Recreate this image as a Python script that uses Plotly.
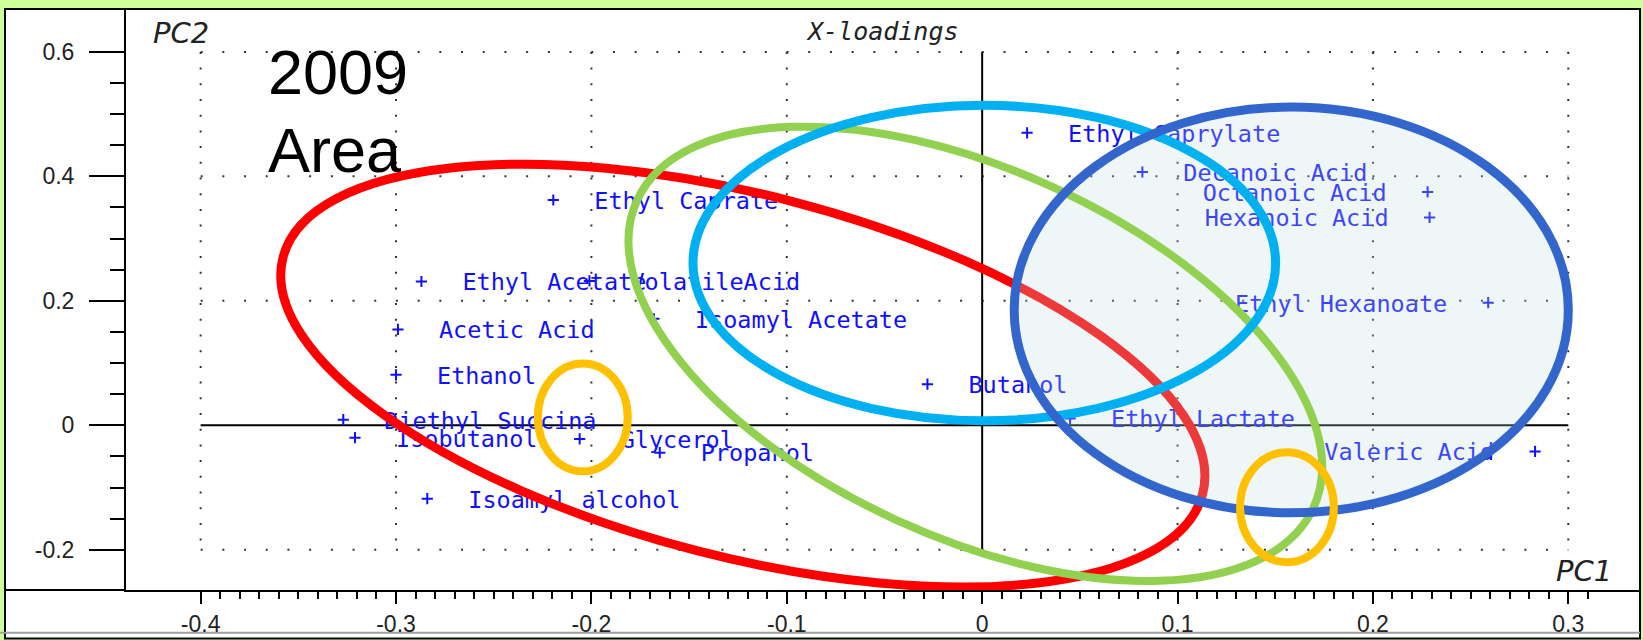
import numpy as np
import plotly.graph_objects as go

# ---------------- data ----------------
NAMES = [
    "Ethyl Caprylate", "Decanoic Acid", "Octanoic Acid", "Hexanoic Acid",
    "Ethyl Caprate", "Ethyl Acetate", "VolatileAcid", "Isoamyl Acetate",
    "Ethyl Hexanoate", "Acetic Acid", "Ethanol", "Butanol",
    "Diethyl Succina", "Isobutanol", "Glycerol", "Propanol",
    "Ethyl Lactate", "Valeric Acid", "Isoamyl alcohol",
]
PC1 = [0.023, 0.082, 0.228, 0.229,
       -0.2195, -0.287, -0.201, -0.168,
       0.259, -0.299, -0.300, -0.028,
       -0.327, -0.321, -0.206, -0.165,
       0.045, 0.283, -0.284]
PC2 = [0.470, 0.407, 0.375, 0.334,
       0.362, 0.231, 0.232, 0.171,
       0.197, 0.154, 0.081, 0.066,
       0.009, -0.020, -0.022, -0.044,
       0.011, -0.042, -0.118]
LABEL_SIDE = ["right", "right", "left", "left",
              "right", "right", "right", "right",
              "left", "right", "right", "right",
              "right", "right", "right", "right",
              "right", "left", "right"]

X_TICKS = [-0.4, -0.3, -0.2, -0.1, 0.0, 0.1, 0.2, 0.3]
X_TICK_LABELS = ["-0.4", "-0.3", "-0.2", "-0.1", "0", "0.1", "0.2", "0.3"]
Y_TICKS = [-0.2, 0.0, 0.2, 0.4, 0.6]
Y_TICK_LABELS = ["-0.2", "0", "0.2", "0.4", "0.6"]

# ellipse annotations (center, conjugate semi-axis vectors, in data units)
# order: red, (blue fill drawn right after red), green, cyan, blue, orange x2
ELLIPSE_COLORS = ["#ff0000", "#92d050", "#00b0f0", "#3366cc", "#ffc000", "#ffc000"]
ELLIPSE_WIDTHS = [9, 8, 9, 9, 8, 8]
ELLIPSE_CENTERS = [(-0.1225, 0.0798), (-0.0035, 0.1148), (0.0011, 0.2607),
                   (0.1582, 0.1853), (-0.2044, 0.0127), (0.1560, -0.1317)]
ELLIPSE_A = [(0.2353, -0.1905), (0.17298, -0.24786), (0.1491, 0.0),
             (0.1418, 0.0), (0.0230, 0.0), (0.0240, 0.0)]
ELLIPSE_B = [(-0.02359, -0.2813), (-0.03975, -0.2679), (0.0, -0.2534),
             (0.0, 0.3260), (0.0, 0.0867), (0.0, 0.0883)]
FILLED_ELLIPSE = 3

# ---------------- layout geometry ----------------
W, H = 1643, 640
ML, MR, MT, MB = 126, 3, 9, 44
PLOT_W = W - ML - MR
PLOT_H = H - MT - MB
X_RANGE = [-0.4382, 0.3367]
Y_RANGE = [-0.2647, 0.6689]
TEXT_DROP = 3 / 628.75   # labels sit ~3 px below their marker


def pxx(X):
    return (X - ML) / PLOT_W


def pxy(Y):
    return (H - MB - Y) / PLOT_H


def ellipse_path(c, a, b):
    k = 0.5522847
    cx, cy = c
    ax, ay = a
    bx, by = b

    def p(u, v):
        return "%.5f,%.5f" % (cx + u * ax + v * bx, cy + u * ay + v * by)
    return ("M " + p(1, 0) +
            " C " + p(1, k) + " " + p(k, 1) + " " + p(0, 1) +
            " C " + p(-k, 1) + " " + p(-1, k) + " " + p(-1, 0) +
            " C " + p(-1, -k) + " " + p(-k, -1) + " " + p(0, -1) +
            " C " + p(k, -1) + " " + p(1, -k) + " " + p(1, 0) + " Z")


LABEL_FONT = dict(family="DejaVu Sans Mono", size=23.5, color="#1010ff")
TICK_FONT = dict(family="Liberation Sans", size=23, color="#222222")
XTITLE_FONT = dict(family="DejaVu Sans Mono", size=25, color="#222222", style="italic")
PCTITLE_FONT = dict(family="DejaVu Sans", size=29, color="#222222", style="italic")

fig = go.Figure()

fig.add_trace(go.Scatter(
    x=PC1, y=PC2, mode="markers", hoverinfo="skip", showlegend=False,
    marker=dict(symbol="cross-thin", size=8, color="#1010ff",
                line=dict(width=2, color="#1010ff")),
))
for side in ["right", "left"]:
    idx = [i for i, s in enumerate(LABEL_SIDE) if s == side]
    fig.add_trace(go.Scatter(
        x=[PC1[i] for i in idx], y=[PC2[i] for i in idx],
        text=[NAMES[i] for i in idx], mode="markers+text",
        textposition="middle " + side, textfont=LABEL_FONT,
        marker=dict(size=64, color="rgba(0,0,0,0)"),
        yaxis="y2", hoverinfo="skip", showlegend=False,
    ))

shapes = []
# white panel with black frame
shapes.append(dict(type="rect", xref="paper", yref="paper",
                   x0=pxx(5), x1=1.0, y0=pxy(645), y1=1.0,
                   fillcolor="white", line=dict(color="black", width=2),
                   layer="below"))
shapes.append(dict(type="line", xref="paper", yref="paper",
                   x0=pxx(5), x1=0, y0=0, y1=0,
                   line=dict(color="black", width=2), layer="below"))
shapes.append(dict(type="line", xref="paper", yref="paper",
                   x0=pxx(0), x1=1.0, y0=pxy(639.2), y1=pxy(639.2),
                   line=dict(color="#a0a0a0", width=2), layer="below"))
# dotted grid limited to the tick box
for xv in X_TICKS:
    if xv == 0:
        continue
    shapes.append(dict(type="line", xref="x", yref="y",
                       x0=xv, x1=xv, y0=Y_TICKS[-1], y1=Y_TICKS[0],
                       line=dict(color="#333333", width=2, dash="2px,13.7px"),
                       layer="below"))
for yv in Y_TICKS:
    if yv == 0:
        continue
    shapes.append(dict(type="line", xref="x", yref="y",
                       x0=X_TICKS[0], x1=X_TICKS[-1], y0=yv, y1=yv,
                       line=dict(color="#333333", width=2, dash="2px,19.7px"),
                       layer="below"))
# zero lines
shapes.append(dict(type="line", xref="x", yref="y",
                   x0=X_TICKS[0], x1=X_TICKS[-1], y0=0, y1=0,
                   line=dict(color="black", width=2), layer="below"))
shapes.append(dict(type="line", xref="x", yref="y",
                   x0=0, x1=0, y0=Y_TICKS[0], y1=Y_TICKS[-1],
                   line=dict(color="black", width=2), layer="below"))
# ellipse outlines on top (red first, then translucent fill, then the rest)
for i, (c, a, b, col, w) in enumerate(zip(ELLIPSE_CENTERS, ELLIPSE_A, ELLIPSE_B,
                                          ELLIPSE_COLORS, ELLIPSE_WIDTHS)):
    shapes.append(dict(type="path", xref="x", yref="y",
                       path=ellipse_path(c, a, b),
                       fillcolor="rgba(0,0,0,0)",
                       line=dict(color=col, width=w), layer="above"))
    if i == 0:
        shapes.append(dict(type="path", xref="x", yref="y",
                           path=ellipse_path(ELLIPSE_CENTERS[FILLED_ELLIPSE],
                                             ELLIPSE_A[FILLED_ELLIPSE],
                                             ELLIPSE_B[FILLED_ELLIPSE]),
                           fillcolor="rgba(190,221,228,0.26)",
                           line=dict(width=0), layer="above"))

annotations = [
    dict(text="PC2", xref="paper", yref="paper", x=pxx(151), y=pxy(33),
         xanchor="left", yanchor="middle", showarrow=False, font=PCTITLE_FONT),
    dict(text="X-loadings", xref="paper", yref="paper", x=pxx(882), y=pxy(32),
         xanchor="center", yanchor="middle", showarrow=False, font=XTITLE_FONT),
    dict(text="PC1", xref="paper", yref="paper", x=pxx(1614), y=pxy(577),
         xanchor="right", yanchor="middle", showarrow=False, font=PCTITLE_FONT),
    dict(text="2009", xref="paper", yref="paper", x=pxx(266), y=pxy(72.5),
         xanchor="left", yanchor="middle", showarrow=False,
         font=dict(family="Liberation Sans", size=63, color="black")),
    dict(text="Area", xref="paper", yref="paper", x=pxx(266), y=pxy(151),
         xanchor="left", yanchor="middle", showarrow=False,
         font=dict(family="Liberation Sans", size=63, color="black")),
]

X_MINOR = [round(v, 2) for v in np.arange(-0.40, 0.3151, 0.01)]
Y_MINOR = [round(v, 2) for v in np.arange(-0.20, 0.6001, 0.05)]

fig.update_layout(
    width=W, height=H, autosize=False,
    margin=dict(l=ML, r=MR, t=MT, b=MB, pad=0),
    paper_bgcolor="#ccff99", plot_bgcolor="white",
    showlegend=False,
    shapes=shapes, annotations=annotations,
    xaxis=dict(range=X_RANGE, showgrid=False, zeroline=False,
               showline=True, linecolor="black", linewidth=2,
               ticks="outside", ticklen=12, tickwidth=2, tickcolor="black",
               tickmode="array", tickvals=X_TICKS, ticktext=X_TICK_LABELS,
               tickfont=TICK_FONT,
               minor=dict(tickmode="array", tickvals=X_MINOR, ticks="outside",
                          ticklen=7, tickwidth=2, tickcolor="black",
                          showgrid=False)),
    yaxis=dict(range=Y_RANGE, showgrid=False, zeroline=False,
               showline=True, linecolor="black", linewidth=2,
               ticks="outside", ticklen=35, tickwidth=2, tickcolor="black",
               tickmode="array", tickvals=Y_TICKS, ticktext=Y_TICK_LABELS,
               tickfont=TICK_FONT, ticklabelstandoff=10,
               minor=dict(tickmode="array", tickvals=Y_MINOR, ticks="outside",
                          ticklen=14, tickwidth=2, tickcolor="black",
                          showgrid=False)),
    yaxis2=dict(range=[Y_RANGE[0] + TEXT_DROP, Y_RANGE[1] + TEXT_DROP],
                overlaying="y", visible=False, showgrid=False, zeroline=False),
)

fig.write_html("out.html",
               config={"displayModeBar": False},
               post_script="document.body.style.margin='0';"
                           "document.body.style.overflow='hidden';")
